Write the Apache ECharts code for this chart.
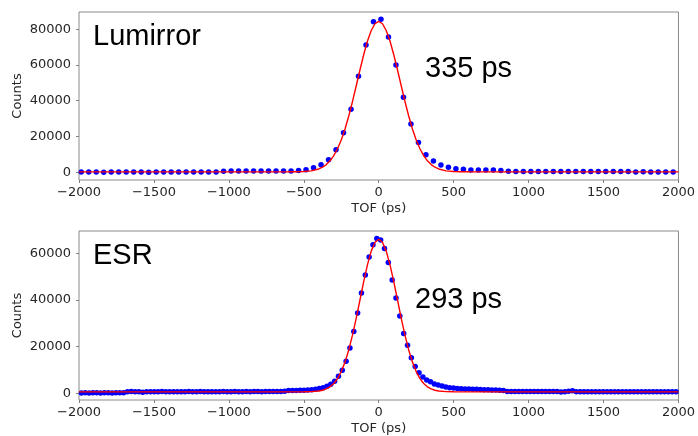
<!DOCTYPE html>
<html>
<head>
<meta charset="utf-8">
<script src="https://cdn.jsdelivr.net/npm/echarts@6/dist/echarts.min.js"></script>
<style>
html, body { margin: 0; padding: 0; background: #fff; }
#chart { width: 698px; height: 436px; }
</style>
</head>
<body>
<div id="chart"></div>
<script>
// Lumirror: measured TOF points (ps) and counts
var lumX = [-1985,-1935,-1885,-1835,-1785,-1735,-1685,-1635,-1585,-1535,-1485,-1435,-1385,-1335,-1285,-1235,-1185,-1135,-1085,-1035,
  -985,-935,-885,-835,-785,-735,-685,-635,-585,-535,
  -485,-435,-385,-335,-285,-235,-185,-135,-85,-35,
  15,65,115,165,215,265,315,365,415,465,
  515,565,615,665,715,765,815,865,915,965,
  1015,1065,1115,1165,1215,1265,1315,1365,1415,1465,
  1515,1565,1615,1665,1715,1765,1815,1865,1915,1965];
var lumY = [150,140,150,130,150,160,150,140,150,130,150,160,140,150,160,150,170,160,180,600,
  700,720,700,740,720,700,760,720,750,1100,
  1450,2570,4250,7040,12630,22130,35200,53640,71120,84140,
  85480,75590,59950,41900,26990,16700,9830,6310,4080,2790,
  2010,1680,1290,1290,1290,1350,1100,560,520,500,
  500,520,490,510,500,480,510,500,490,520,
  500,480,510,490,170,400,170,200,200,250];
// Lumirror: fitted curve
var lumFitX = [-2000,-700,-600,-550,-500,-450,-400,-375,-350,-325,-300,-275,-250,-225,-200,-175,-150,-125,-100,-75,-50,-25,
  0,25,50,75,100,125,150,175,200,225,250,275,300,325,350,375,400,450,500,550,600,700,2000];
var lumFitY = [300,300,310,350,470,850,1890,2870,4330,6420,9310,13180,18130,24240,31460,39600,48380,57320,65850,73360,79250,83000,
  84300,83000,79250,73360,65850,57320,48380,39600,31460,24240,18130,13180,9310,6420,4330,2870,1890,850,470,350,310,300,300];

// ESR: measured TOF points (ps) and counts
var esrX = [-1984,-1958.4,-1932.8,-1907.2,-1881.6, -1856,-1830.4,-1804.8,-1779.2,-1753.6,
  -1728,-1702.4,-1676.8,-1651.2,-1625.6, -1600,-1574.4,-1548.8,-1523.2,-1497.6,
  -1472,-1446.4,-1420.8,-1395.2,-1369.6, -1344,-1318.4,-1292.8,-1267.2,-1241.6,
  -1216,-1190.4,-1164.8,-1139.2,-1113.6, -1088,-1062.4,-1036.8,-1011.2,-985.6,
  -960,-934.4,-908.8,-883.2,-857.6, -832,-806.4,-780.8,-755.2,-729.6,
  -704,-678.4,-652.8,-627.2,-601.6, -576,-550.4,-524.8,-499.2,-473.6,
  -448,-422.4,-396.8,-371.2,-345.6, -320,-294.4,-268.8,-243.2,-217.6,
  -192,-166.4,-140.8,-115.2,-89.6, -64,-38.4,-12.8,12.8,38.4,
  64,89.6,115.2,140.8,166.4, 192,217.6,243.2,268.8,294.4,
  320,345.6,371.2,396.8,422.4, 448,473.6,499.2,524.8,550.4,
  576,601.6,627.2,652.8,678.4, 704,729.6,755.2,780.8,806.4,
  832,857.6,883.2,908.8,934.4, 960,985.6,1011.2,1036.8,1062.4,
  1088,1113.6,1139.2,1164.8,1190.4, 1216,1241.6,1267.2,1292.8,1318.4,
  1344,1369.6,1395.2,1420.8,1446.4, 1472,1497.6,1523.2,1548.8,1574.4,
  1600,1625.6,1651.2,1676.8,1702.4, 1728,1753.6,1779.2,1804.8,1830.4,
  1856,1881.6,1907.2,1932.8,1958.4, 1984];
var esrY = [150,200,120,180,160, 140,190,170,120,200,
  180,220,650,720,690, 600,420,650,680,640,
  660,700,640,680,650, 690,640,670,700,650,
  660,700,680,640,690, 650,690,700,660,680,
  700,650,690,720,680, 700,740,690,720,760,
  740,780,800,850,1150, 1200,1220,1280,1330,1420,
  1550,1750,2000,2400,3000, 3900,5200,7300,9900,13700,
  19400,26500,34500,43000,50800, 58500,63700,66400,65800,62100,
  56100,48600,40900,33200,25700, 20600,15200,11500,8800,7000,
  5700,4950,4000,3500,3150, 2700,2400,2200,2050,1950,
  1850,1800,1750,1680,1600, 1500,1450,1400,1350,1300,
  1200,760,740,780,720, 750,770,730,760,740,
  780,720,750,740,770, 580,620,900,1100,650,
  640,660,620,680,650, 630,670,650,640,660,
  670,640,650,680,620, 650,690,640,660,670,
  650,680,640,660,670, 650];
// ESR: fitted curve
var esrFitX = [-2000,-700,-600,-500,-450,-400,-375,-350,-325,-300,-275,-250,-225,-200,-175,-150,-125,-100,-75,-50,-25,
  0,25,50,75,100,125,150,175,200,225,250,275,300,325,350,375,400,450,500,600,700,2000];
var esrFitY = [600,600,600,620,690,970,1300,1850,2760,4180,6290,9300,13360,18590,24950,32260,40140,48020,55210,61020,64790,
  66100,64790,61020,55210,48020,40140,32260,24950,18590,13360,9300,6290,4180,2760,1850,1300,970,690,620,600,600,600];

var yTicks = [0, 20000, 40000, 60000, 80000];
var yTicksEsr = [0, 20000, 40000, 60000];
var panelNames = ['Lumirror', 'ESR'];
var widths = ['335 ps', '293 ps'];

function pairs (xs, ys) {
  return xs.map(function (x, i) { return [x, ys[i]]; });
}
function minus (v) {
  return String(v).replace('-', '\u2212');
}

var tickFont = { fontFamily: 'DejaVu Sans', fontSize: 13, color: '#262626' };

function makeX (gi) {
  return {
    type: 'value', gridIndex: gi, min: -2000, max: 2000, interval: 500,
    name: 'TOF (ps)', nameLocation: 'middle', nameGap: 22,
    nameTextStyle: tickFont,
    axisLine: { show: false, onZero: false },
    axisTick: { length: 3, lineStyle: { color: '#7f7f7f' } },
    axisLabel: Object.assign({ margin: 6, formatter: minus }, tickFont),
    splitLine: { show: false }
  };
}
function makeY (gi, min, max, ticks) {
  return {
    type: 'value', gridIndex: gi, min: min, max: max,
    name: 'Counts', nameLocation: 'middle', nameGap: 55, nameMoveOverlap: false,
    nameTextStyle: tickFont,
    axisLine: { show: false, onZero: false },
    axisTick: { length: 3, customValues: ticks, lineStyle: { color: '#7f7f7f' } },
    axisLabel: Object.assign({ margin: 8, customValues: ticks, formatter: function (v) { return String(v); } }, tickFont),
    splitLine: { show: false }
  };
}

var bigFont = { fontFamily: 'Liberation Sans', fontSize: 29, fill: '#000' };
function label (txt, x, y) {
  return {
    type: 'text', x: x, y: y, z: 10,
    style: Object.assign({ text: txt, align: 'left', verticalAlign: 'middle', textAlign: 'left', textVerticalAlign: 'middle' }, bigFont)
  };
}

var option = {
  animation: false,
  grid: [
    { left: 79, top: 12, width: 603, height: 168, show: true, borderColor: '#8a8a8a', borderWidth: 1 },
    { left: 79, top: 231, width: 603, height: 169, show: true, borderColor: '#8a8a8a', borderWidth: 1 }
  ],
  xAxis: [makeX(0), makeX(1)],
  yAxis: [makeY(0, -4265, 89565, yTicks), makeY(1, -2900, 69650, yTicksEsr)],
  graphic: [
    label(panelNames[0], 93, 37),
    label(widths[0], 425, 69),
    label(panelNames[1], 93, 256),
    label(widths[1], 415, 300)
  ],
  series: [
    {
      type: 'scatter', xAxisIndex: 0, yAxisIndex: 0, data: pairs(lumX, lumY),
      symbolSize: 5.5, itemStyle: { color: '#0000ff', opacity: 1 }, z: 2
    },
    {
      type: 'line', xAxisIndex: 0, yAxisIndex: 0, data: pairs(lumFitX, lumFitY),
      showSymbol: false, smooth: false, lineStyle: { color: '#ff0000', width: 1.4 }, z: 3
    },
    {
      type: 'scatter', xAxisIndex: 1, yAxisIndex: 1, data: pairs(esrX, esrY),
      symbolSize: 5.5, itemStyle: { color: '#0000ff', opacity: 1 }, z: 2
    },
    {
      type: 'line', xAxisIndex: 1, yAxisIndex: 1, data: pairs(esrFitX, esrFitY),
      showSymbol: false, smooth: false, lineStyle: { color: '#ff0000', width: 1.4 }, z: 3
    }
  ]
};

var myChart = echarts.init(document.getElementById('chart'), null, { renderer: 'canvas' });
myChart.setOption(option);
</script>
</body>
</html>
